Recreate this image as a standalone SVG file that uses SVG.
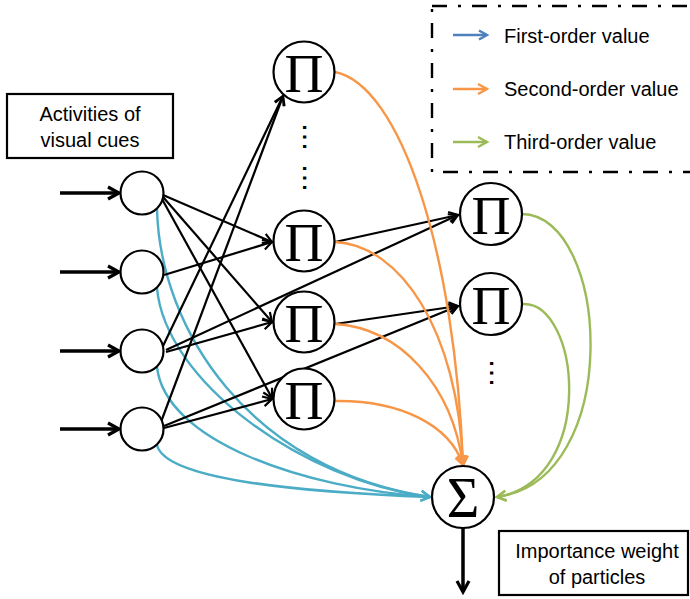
<svg xmlns="http://www.w3.org/2000/svg" width="690" height="599" viewBox="0 0 690 599">
<style>
.node{fill:#fff;stroke:#000;stroke-width:2.2}
.sym{font-family:"Liberation Serif","Times New Roman",serif;text-anchor:middle;fill:#000}
.lbl{font-family:"Liberation Sans",Arial,sans-serif;font-size:20px;fill:#000}
.box{fill:#fff;stroke:#000;stroke-width:2.2}
.blk{fill:none;stroke:#000;stroke-width:2.2}
.inp{fill:none;stroke:#000;stroke-width:3.5}
.cy{fill:none;stroke:#4bacc6;stroke-width:2.4}
.or{fill:none;stroke:#f79646;stroke-width:2.4}
.gr{fill:none;stroke:#9bbb59;stroke-width:2.4}
.dots{font-family:"Liberation Sans",Arial,sans-serif;font-size:30px;text-anchor:middle;fill:#000}
</style>
<defs>
<marker id="ab" markerUnits="userSpaceOnUse" markerWidth="14" markerHeight="14" refX="10" refY="6" orient="auto" overflow="visible">
<path d="M1,1 L10,6 L1,11" fill="none" stroke="#000" stroke-width="2.2" stroke-linejoin="miter"/>
</marker>
<marker id="abig" markerUnits="userSpaceOnUse" markerWidth="16" markerHeight="16" refX="12" refY="7" orient="auto" overflow="visible">
<path d="M1,1 L12,7 L1,13" fill="none" stroke="#000" stroke-width="3.2"/>
</marker>
<marker id="ac" markerUnits="userSpaceOnUse" markerWidth="14" markerHeight="14" refX="10" refY="6" orient="auto" overflow="visible">
<path d="M1,1 L10,6 L1,11" fill="none" stroke="#4bacc6" stroke-width="2.4"/>
</marker>
<marker id="ao" markerUnits="userSpaceOnUse" markerWidth="14" markerHeight="14" refX="10" refY="6" orient="auto" overflow="visible">
<path d="M1,1 L10,6 L1,11" fill="none" stroke="#f79646" stroke-width="2.4"/>
</marker>
<marker id="ag" markerUnits="userSpaceOnUse" markerWidth="14" markerHeight="14" refX="10" refY="6" orient="auto" overflow="visible">
<path d="M1,1 L10,6 L1,11" fill="none" stroke="#9bbb59" stroke-width="2.4"/>
</marker>
<marker id="alb" markerUnits="userSpaceOnUse" markerWidth="14" markerHeight="14" refX="10" refY="6" orient="auto" overflow="visible">
<path d="M2,1.5 L10,6 L2,10.5" fill="none" stroke="#4f81bd" stroke-width="2.4"/>
</marker>
</defs>

<g id="legend">
<rect x="432" y="6" width="290" height="166" fill="none" stroke="#000" stroke-width="2.4" stroke-dasharray="15 11 3 11"/>
<line x1="453" y1="35" x2="487" y2="35" stroke="#4f81bd" stroke-width="2.4" marker-end="url(#alb)"/>
<line x1="453" y1="89" x2="487" y2="89" stroke="#f79646" stroke-width="2.4" marker-end="url(#ao)"/>
<line x1="453" y1="142" x2="487" y2="142" stroke="#9bbb59" stroke-width="2.4" marker-end="url(#ag)"/>
<text class="lbl" x="504" y="43">First-order value</text>
<text class="lbl" x="504" y="96">Second-order value</text>
<text class="lbl" x="504" y="149">Third-order value</text>
</g>

<g id="connectors">
<!-- input arrows -->
<line class="inp" x1="60" y1="193" x2="119" y2="193" marker-end="url(#abig)"/>
<line class="inp" x1="60" y1="272" x2="119" y2="272" marker-end="url(#abig)"/>
<line class="inp" x1="60" y1="351" x2="119" y2="351" marker-end="url(#abig)"/>
<line class="inp" x1="60" y1="429" x2="119" y2="429" marker-end="url(#abig)"/>
<!-- first order (cyan) -->
<path class="cy" d="M157,209 C160,330 250,470 430,497" marker-end="url(#ac)"/>
<path class="cy" d="M157,288 C165,380 300,480 430,497" marker-end="url(#ac)"/>
<path class="cy" d="M157,367 C165,440 300,488 430,497"/>
<path class="cy" d="M157,445 C165,480 300,492 430,497"/>
<!-- black -->
<line class="blk" x1="163" y1="195" x2="272" y2="242" marker-end="url(#ab)"/>
<line class="blk" x1="163" y1="197" x2="272" y2="322" marker-end="url(#ab)"/>
<line class="blk" x1="162" y1="199" x2="272" y2="398" marker-end="url(#ab)"/>
<line class="blk" x1="164" y1="275" x2="272" y2="242" marker-end="url(#ab)"/>
<line class="blk" x1="163" y1="346" x2="283" y2="96" marker-end="url(#ab)"/>
<line class="blk" x1="166" y1="352" x2="272" y2="322" marker-end="url(#ab)"/>
<line class="blk" x1="166" y1="350" x2="458" y2="215" marker-end="url(#ab)"/>
<line class="blk" x1="161" y1="422" x2="283" y2="96" marker-end="url(#ab)"/>
<line class="blk" x1="164" y1="428" x2="272" y2="399" marker-end="url(#ab)"/>
<line class="blk" x1="164" y1="426" x2="458" y2="306" marker-end="url(#ab)"/>
<line class="blk" x1="335" y1="242" x2="458" y2="215" marker-end="url(#ab)"/>
<line class="blk" x1="335" y1="324" x2="458" y2="306" marker-end="url(#ab)"/>
<!-- second order (orange) -->
<path class="or" d="M335,72 C400,85 455,250 463,465" marker-end="url(#ao)"/>
<path class="or" d="M335,242 C400,245 458,330 463,465" marker-end="url(#ao)"/>
<path class="or" d="M335,324 C400,328 452,385 463,465" marker-end="url(#ao)"/>
<path class="or" d="M335,401 C400,400 450,425 463,465" marker-end="url(#ao)"/>
<!-- third order (green) -->
<path class="gr" d="M522,214 C610,215 625,480 497,497" marker-end="url(#ag)"/>
<path class="gr" d="M522,304 C580,300 598,480 497,497" marker-end="url(#ag)"/>
<!-- output -->
<line class="inp" x1="463" y1="528" x2="463" y2="592" stroke-width="3" marker-end="url(#abig)"/>
</g>

<g id="in1"><circle class="node" cx="142" cy="193" r="21.5"/></g>
<g id="in2"><circle class="node" cx="142" cy="272" r="21.5"/></g>
<g id="in3"><circle class="node" cx="142" cy="351" r="21.5"/></g>
<g id="in4"><circle class="node" cx="142" cy="429" r="21.5"/></g>

<g id="pi1"><circle class="node" cx="304" cy="72" r="30.5"/><text class="sym" x="304" y="92" font-size="54">Π</text></g>
<g id="pi2"><circle class="node" cx="304" cy="241" r="30.5"/><text class="sym" x="304" y="261" font-size="54">Π</text></g>
<g id="pi3"><circle class="node" cx="304" cy="322" r="30.5"/><text class="sym" x="304" y="342" font-size="54">Π</text></g>
<g id="pi4"><circle class="node" cx="304" cy="399" r="30.5"/><text class="sym" x="304" y="419" font-size="54">Π</text></g>
<g id="pi5"><circle class="node" cx="491" cy="214" r="31"/><text class="sym" x="491" y="234" font-size="54">Π</text></g>
<g id="pi6"><circle class="node" cx="491" cy="304" r="31"/><text class="sym" x="491" y="324" font-size="54">Π</text></g>
<g id="sigma"><circle class="node" cx="463" cy="497" r="31"/><text class="sym" x="463" y="517" font-size="56">Σ</text></g>

<g id="dots">
<text class="dots" transform="translate(303,137) rotate(90)">…</text>
<text class="dots" transform="translate(303,178) rotate(90)">…</text>
<text class="dots" transform="translate(490,373) rotate(90)">…</text>
</g>

<g id="label-in">
<rect class="box" x="7" y="94" width="166" height="64"/>
<text class="lbl" x="90" y="121" text-anchor="middle">Activities of</text>
<text class="lbl" x="90" y="147" text-anchor="middle">visual cues</text>
</g>
<g id="label-out">
<rect class="box" x="499" y="531" width="189" height="64"/>
<text class="lbl" x="597" y="558" text-anchor="middle">Importance weight</text>
<text class="lbl" x="597" y="584" text-anchor="middle">of particles</text>
</g>
</svg>
